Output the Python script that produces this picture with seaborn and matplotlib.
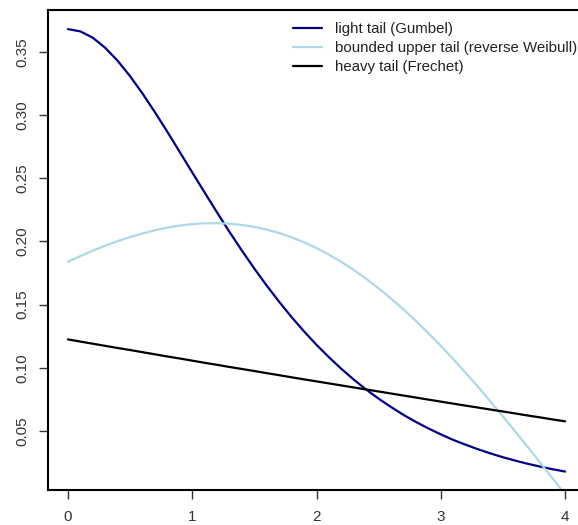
import numpy as np
import pandas as pd
import matplotlib
matplotlib.use("Agg")
import matplotlib.pyplot as plt
import seaborn as sns

# ---- data ----
x_vals = [0.0, 0.1, 0.2, 0.3, 0.4, 0.5, 0.6, 0.7, 0.8, 0.9,
          1.0, 1.1, 1.2, 1.3, 1.4, 1.5, 1.6, 1.7, 1.8, 1.9,
          2.0, 2.1, 2.2, 2.3, 2.4, 2.5, 2.6, 2.7, 2.8, 2.9,
          3.0, 3.1, 3.2, 3.3, 3.4, 3.5, 3.6, 3.7, 3.8, 3.9, 4.0]
gumbel = [0.3679, 0.3661, 0.3611, 0.3531, 0.3429, 0.3307, 0.3170, 0.3022, 0.2867, 0.2707,
          0.2546, 0.2387, 0.2229, 0.2075, 0.1927, 0.1785, 0.1650, 0.1522, 0.1401, 0.1288,
          0.1182, 0.1084, 0.0992, 0.0907, 0.0828, 0.0756, 0.0690, 0.0628, 0.0572, 0.0521,
          0.0474, 0.0430, 0.0392, 0.0356, 0.0323, 0.0293, 0.0266, 0.0241, 0.0219, 0.0198,
          0.0180]
rev_weibull = [0.1839, 0.1884, 0.1927, 0.1966, 0.2002, 0.2034, 0.2063, 0.2088, 0.2109, 0.2125,
               0.2137, 0.2143, 0.2144, 0.2140, 0.2130, 0.2115, 0.2093, 0.2066, 0.2032, 0.1993,
               0.1947, 0.1895, 0.1838, 0.1774, 0.1704, 0.1629, 0.1548, 0.1462, 0.1371, 0.1275,
               0.1174, 0.1069, 0.0961, 0.0849, 0.0733, 0.0615, 0.0495, 0.0373, 0.0249, 0.0125,
               0.0000]
frechet = [0.1225, 0.1208, 0.1191, 0.1174, 0.1157, 0.1141, 0.1124, 0.1107, 0.1090, 0.1074,
           0.1057, 0.1040, 0.1024, 0.1007, 0.0991, 0.0975, 0.0958, 0.0942, 0.0925, 0.0909,
           0.0893, 0.0877, 0.0861, 0.0845, 0.0829, 0.0813, 0.0797, 0.0781, 0.0765, 0.0749,
           0.0733, 0.0717, 0.0701, 0.0686, 0.0670, 0.0655, 0.0639, 0.0623, 0.0608, 0.0592,
           0.0577]
series_names = ["light tail (Gumbel)",
                "bounded upper tail (reverse Weibull)",
                "heavy tail (Frechet)"]
series_colors = ["#00008B", "#ADD8E6", "#000000"]
x_ticks = [0, 1, 2, 3, 4]
y_ticks = [0.05, 0.10, 0.15, 0.20, 0.25, 0.30, 0.35]

df = pd.DataFrame({"x": x_vals,
                   series_names[0]: gumbel,
                   series_names[1]: rev_weibull,
                   series_names[2]: frechet})
long_df = df.melt(id_vars="x", var_name="series", value_name="density")

sns.set_style("white")
plt.rcParams["font.family"] = ["Liberation Sans", "DejaVu Sans"]

W, H = 578, 525
fig = plt.figure(figsize=(W / 100, H / 100), dpi=100)
left, right, top, bottom = 48, 585, 10, 490
ax = fig.add_axes([left / W, (H - bottom) / H, (right - left) / W, (bottom - top) / H])

sns.lineplot(data=long_df, x="x", y="density", hue="series",
             hue_order=series_names, palette=series_colors,
             linewidth=1.6, legend=False, ax=ax, estimator=None, sort=True)

ax.set_xlim(-0.16, 4.16)
ax.set_ylim(0.0034, 0.383)
ax.set_xticks(x_ticks)
ax.set_xticklabels([str(t) for t in x_ticks])
ax.set_yticks(y_ticks)
ax.set_yticklabels([f"{t:.2f}" for t in y_ticks], rotation=90, va="center")
ax.set_xlabel("")
ax.set_ylabel("")

for s in ax.spines.values():
    s.set_visible(True)
    s.set_color("black")
    s.set_linewidth(1.5)

ax.tick_params(axis="both", which="major", direction="out", length=6.5,
               width=1.0, color="#333333", labelsize=11, labelcolor="#333333",
               bottom=True, left=True)
ax.tick_params(axis="x", pad=8)
ax.tick_params(axis="y", pad=7)

handles = ax.lines[:3]
leg = ax.legend(handles, series_names, loc="upper left",
                bbox_to_anchor=(293 / W, 1 - 22 / H), bbox_transform=fig.transFigure,
                frameon=False, fontsize=10.8, handlelength=1.93,
                handletextpad=0.85, labelspacing=0.34, borderaxespad=0,
                borderpad=0)
for t in leg.get_texts():
    t.set_color("#222222")

fig.savefig("out.png", dpi=100)
